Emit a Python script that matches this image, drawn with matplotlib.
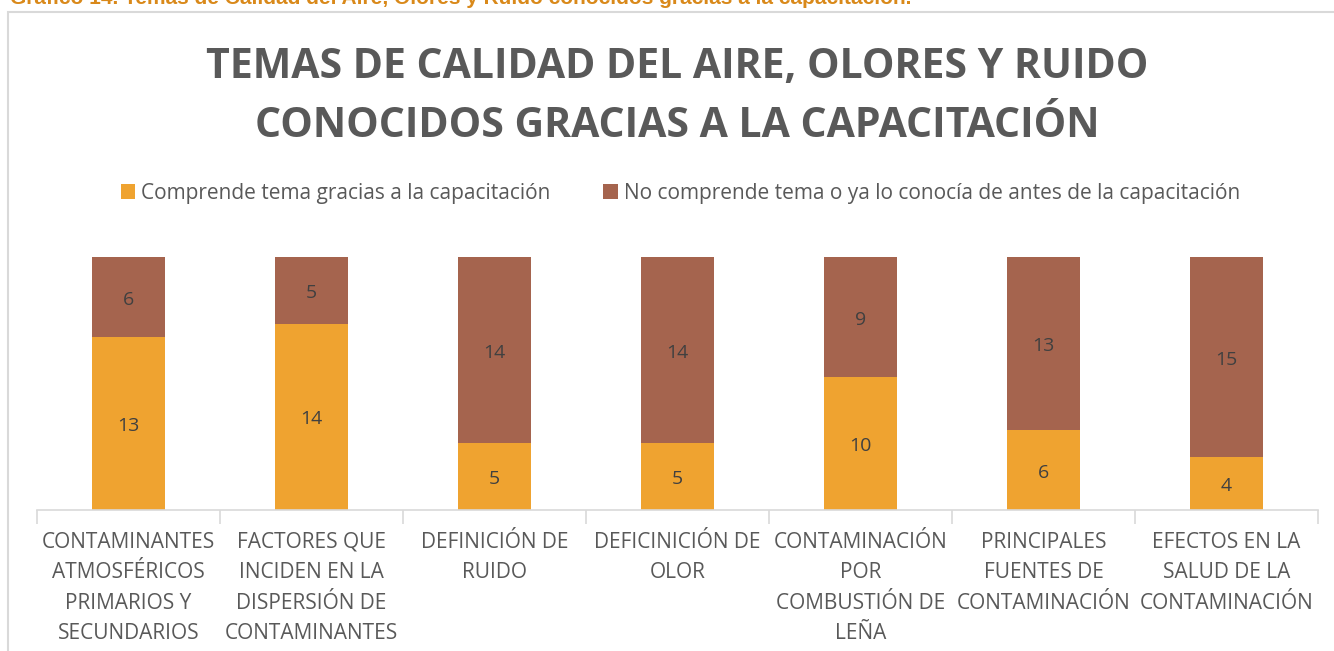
import matplotlib
matplotlib.use("Agg")
import matplotlib.pyplot as plt
from matplotlib.patches import Rectangle

categories = [
    "CONTAMINANTES\nATMOSFÉRICOS\nPRIMARIOS Y\nSECUNDARIOS",
    "FACTORES QUE\nINCIDEN EN LA\nDISPERSIÓN DE\nCONTAMINANTES",
    "DEFINICIÓN DE\nRUIDO",
    "DEFICINICIÓN DE\nOLOR",
    "CONTAMINACIÓN\nPOR\nCOMBUSTIÓN DE\nLEÑA",
    "PRINCIPALES\nFUENTES DE\nCONTAMINACIÓN",
    "EFECTOS EN LA\nSALUD DE LA\nCONTAMINACIÓN",
]
comprende = [13, 14, 5, 5, 10, 6, 4]
no_comprende = [6, 5, 14, 14, 9, 13, 15]
series_names = ["Comprende tema gracias a la capacitación",
                "No comprende tema o ya lo conocía de antes de la capacitación"]
title = "TEMAS DE CALIDAD DEL AIRE, OLORES Y RUIDO\nCONOCIDOS GRACIAS A LA CAPACITACIÓN"
caption = "Gráfico 14. Temas de Calidad del Aire, Olores y Ruido conocidos gracias a la capacitación."

c1 = "#EFA330"
c2 = "#A5644E"
txt = "#595959"

plt.rcParams['font.family'] = ['Open Sans', 'DejaVu Sans']

fig = plt.figure(figsize=(13.34, 6.51), dpi=100)
W, H = 1334, 651

# chart border
fig.patches.append(Rectangle((8 / W, -0.1), 1.2, 1 - 12 / H + 0.1, transform=fig.transFigure,
                             fill=False, edgecolor="#D9D9D9", linewidth=1.5))

fig.text(10 / W, 1 + 2 / H, caption, ha="left", va="center", color="#D9891A",
         fontsize=15, fontweight="bold", family=["Liberation Sans Narrow", "Liberation Sans", "DejaVu Sans"])

left, right = 37 / W, 1318 / W
bottom, top = 1 - 510 / H, 1 - 257 / H
ax = fig.add_axes([left, bottom, right - left, top - bottom])

x = list(range(len(categories)))
b1 = ax.bar(x, comprende, width=0.4, color=c1, label=series_names[0])
b2 = ax.bar(x, no_comprende, width=0.4, bottom=comprende, color=c2, label=series_names[1])
for rects, vals, bots in [(b1, comprende, [0] * 7), (b2, no_comprende, comprende)]:
    for r, v, b in zip(rects, vals, bots):
        ax.text(r.get_x() + r.get_width() / 2, b + v / 2 - 0.2, str(v), ha="center", va="center",
                fontsize=14, color="#404040")

ax.set_xlim(-0.5, len(categories) - 0.5)
ax.set_ylim(0, 19)
for s in ["top", "right", "left"]:
    ax.spines[s].set_visible(False)
ax.spines["bottom"].set_color("#D9D9D9")
ax.spines["bottom"].set_linewidth(1.2)
ax.set_yticks([])
ax.set_xticks([i - 0.5 for i in range(len(categories) + 1)], minor=False)
ax.set_xticklabels([])
ax.tick_params(axis="x", length=10, color="#D9D9D9", width=1.2)
for i, c in enumerate(categories):
    ax.text(i, -1.65, c, ha="center", va="top", fontsize=15, color=txt, linespacing=1.58)

fig.text(0.5075, 1 - 97 / H, title, ha="center", va="center", fontsize=29.5, fontweight="bold",
         color=txt, linespacing=1.6)

leg = fig.legend(handles=[b1, b2], loc="center", bbox_to_anchor=(0.51, 1 - 193 / H), ncol=2,
                 frameon=False, fontsize=15, handlelength=0.7, handleheight=0.7,
                 handletextpad=0.3, columnspacing=2.5, labelcolor=txt)

fig.savefig("out.png", dpi=100)
